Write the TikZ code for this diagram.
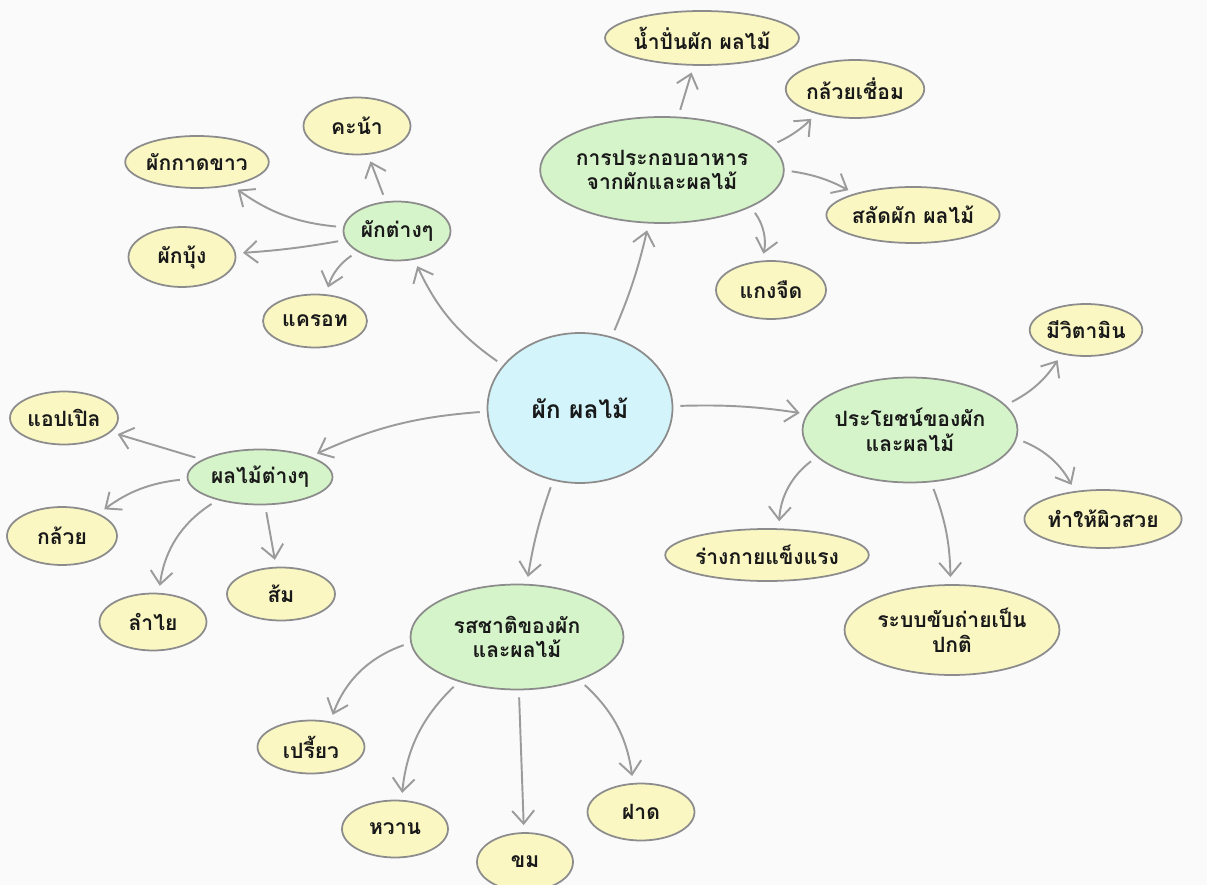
\documentclass[tikz,border=0pt]{standalone}
\usepackage{fontspec}
\setmainfont{Loma}[Script=Thai]
\usepackage{tikz}
\usetikzlibrary{shapes.geometric,arrows.meta}
\definecolor{leafyellow}{HTML}{FAF7C3}
\definecolor{topicgreen}{HTML}{D6F4C9}
\definecolor{corecyan}{HTML}{D3F4FA}
\definecolor{edgegray}{HTML}{8C8C8C}
\definecolor{linkgray}{HTML}{9B9B9B}

\begin{document}
\begin{tikzpicture}[x=0.02cm,y=-0.02cm,
        bubble/.style={ellipse,draw=edgegray,line width=1pt,inner sep=0pt,align=center,text=black!90,font=\fontsize{12}{14}\selectfont\bfseries},
        core/.style={bubble,fill=corecyan,font=\fontsize{14}{16}\selectfont\bfseries},
        topic/.style={bubble,fill=topicgreen},
        leaf/.style={bubble,fill=leafyellow},
        link/.style={draw=linkgray,line width=1.1pt,-{Straight Barb[length=2.6mm,width=4.4mm]},shorten <=4pt,shorten >=4pt}]
        \fill[white!98!black] (0,0) rectangle (1207,885);
        \useasboundingbox (0,0) rectangle (1207,885);
        % centre
        \node[core,minimum width=3.7cm,minimum height=3cm] (c) at (580,408) {ผัก ผลไม้};
        % topics
        \node[topic,minimum width=2.14cm,minimum height=1.18cm] (veg) at (397,231) {ผักต่างๆ};
        \node[topic,minimum width=4.3cm,minimum height=2.12cm] (cook) at (662,170) {การประกอบอาหาร\\จากผักและผลไม้};
        \node[topic,minimum width=4.3cm,minimum height=2.1cm] (ben) at (910,430) {ประโยชน์ของผัก\\และผลไม้};
        \node[topic,minimum width=4.26cm,minimum height=2.1cm] (taste) at (517,637) {รสชาติของผัก\\และผลไม้};
        \node[topic,minimum width=2.9cm,minimum height=1.1cm] (fruit) at (260,477) {ผลไม้ต่างๆ};
        % vegetables
        \node[leaf,minimum width=2.14cm,minimum height=1.14cm] (v1) at (357,126) {คะน้า};
        \node[leaf,minimum width=2.46cm,minimum height=1.04cm] (v2) at (197,162) {ผักกาดขาว};
        \node[leaf,minimum width=2.14cm,minimum height=1.2cm] (v3) at (182,257) {ผักบุ้ง};
        \node[leaf,minimum width=2.08cm,minimum height=1.06cm] (v4) at (315,321) {แครอท};
        % dishes
        \node[leaf,minimum width=3.4cm,minimum height=1.08cm] (k1) at (702,38) {น้ำปั่นผัก ผลไม้};
        \node[leaf,minimum width=2.5cm,minimum height=1.16cm] (k2) at (855,89) {กล้วยเชื่อม};
        \node[leaf,minimum width=3.06cm,minimum height=1.12cm] (k3) at (913,215) {สลัดผัก ผลไม้};
        \node[leaf,minimum width=2.2cm,minimum height=1.16cm] (k4) at (771,290) {แกงจืด};
        % benefits
        \node[leaf,minimum width=2.04cm,minimum height=1.04cm] (b1) at (1086,330) {มีวิตามิน};
        \node[leaf,minimum width=2.9cm,minimum height=1.16cm] (b2) at (1103,519) {ทำให้ผิวสวย};
        \node[leaf,minimum width=3.5cm,minimum height=1.04cm] (b3) at (767,555) {ร่างกายแข็งแรง};
        \node[leaf,minimum width=4.3cm,minimum height=1.8cm] (b4) at (952,630) {ระบบขับถ่ายเป็น\\ปกติ};
        % tastes
        \node[leaf,minimum width=2.14cm,minimum height=1.06cm] (t1) at (311,747) {เปรี้ยว};
        \node[leaf,minimum width=2.12cm,minimum height=1.14cm] (t2) at (395,829) {หวาน};
        \node[leaf,minimum width=1.92cm,minimum height=1.16cm] (t3) at (525,862) {ขม};
        \node[leaf,minimum width=2.14cm,minimum height=1.14cm] (t4) at (641,812) {ฝาด};
        % fruits
        \node[leaf,minimum width=2.16cm,minimum height=1.06cm] (f1) at (64,418) {แอปเปิล};
        \node[leaf,minimum width=2.2cm,minimum height=1.16cm] (f2) at (62,536) {กล้วย};
        \node[leaf,minimum width=2.14cm,minimum height=1.14cm] (f3) at (153,622) {ลำไย};
        \node[leaf,minimum width=2.16cm,minimum height=1.06cm] (f4) at (281,594) {ส้ม};
        % links
        \draw[link] (c) to[bend left=15] (veg);
        \draw[link] (c) to[bend right=5] (cook);
        \draw[link] (c) to[bend left=5] (ben);
        \draw[link] (c) to[bend right=5] (taste);
        \draw[link] (c) to[bend right=10] (fruit);
        \draw[link] (veg) -- (v1);
        \draw[link] (veg) to[bend left=15] (v2);
        \draw[link] (veg) to[bend left=3] (v3);
        \draw[link] (veg) to[bend right=20] (v4);
        \draw[link] (cook) -- (k1);
        \draw[link] (cook) to[bend right=10] (k2);
        \draw[link] (cook) to[bend left=10] (k3);
        \draw[link] (cook) to[bend left=25] (k4);
        \draw[link] (ben) to[bend right=15] (b1);
        \draw[link] (ben) to[bend left=20] (b2);
        \draw[link] (ben) to[bend right=25] (b3);
        \draw[link] (ben) to[bend left=10] (b4);
        \draw[link] (taste) to[bend right=25] (t1);
        \draw[link] (taste) to[bend right=20] (t2);
        \draw[link] (taste) -- (t3);
        \draw[link] (taste) to[bend left=20] (t4);
        \draw[link] (fruit) -- (f1);
        \draw[link] (fruit) to[bend right=15] (f2);
        \draw[link] (fruit) to[bend right=25] (f3);
        \draw[link] (fruit) -- (f4);
\end{tikzpicture}
\end{document}
